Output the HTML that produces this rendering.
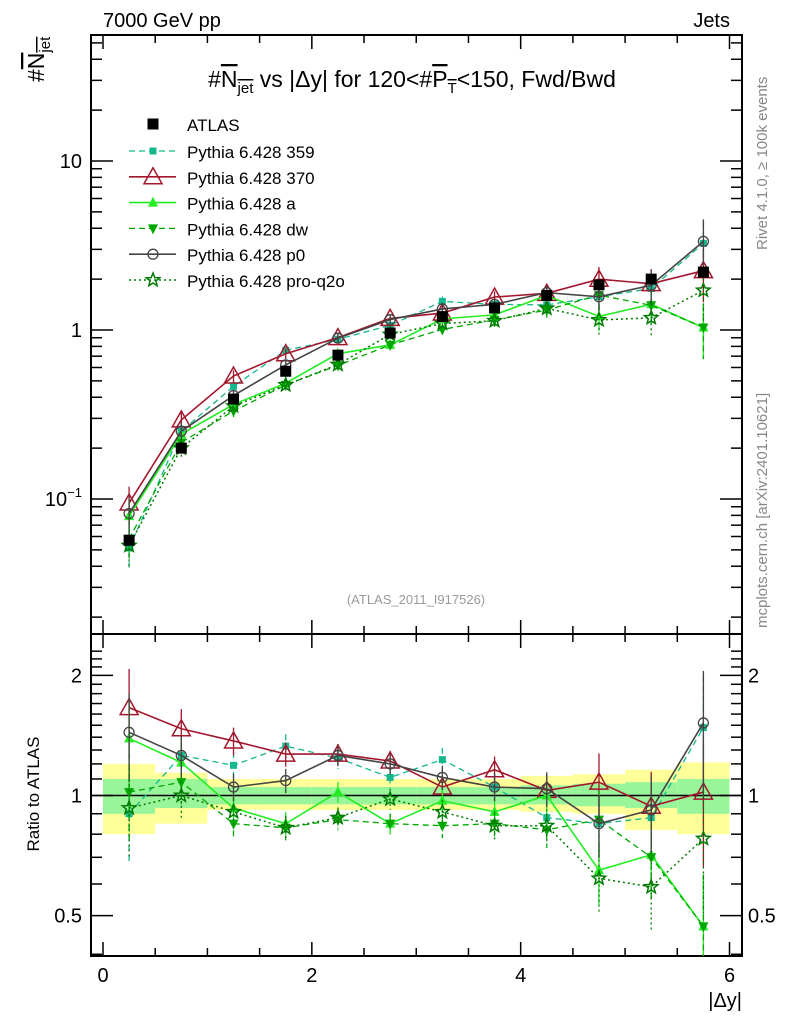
<!DOCTYPE html>
<html><head><meta charset="utf-8"><style>
html,body{margin:0;padding:0;background:#fff;}
svg text{font-family:"Liberation Sans",sans-serif;}
</style></head><body>
<svg id="c" width="786" height="1024" xmlns="http://www.w3.org/2000/svg">
<g id="bands"></g>
<g id="axes"></g>
<g id="series"></g>
<g id="legend"></g>
<text x="103" y="27" font-size="20">7000 GeV pp</text>
<text x="730" y="27" font-size="20" text-anchor="end">Jets</text>
<text x="412" y="87" font-size="23" text-anchor="middle">#<tspan text-decoration="overline">N<tspan font-size="15" dy="6">jet</tspan></tspan><tspan dy="-6"> vs |Δy| for 120&lt;#</tspan><tspan text-decoration="overline">P<tspan font-size="15" dy="6">T</tspan></tspan><tspan dy="-6">&lt;150, Fwd/Bwd</tspan></text>
<text transform="translate(44,82) rotate(-90)" font-size="23">#<tspan text-decoration="overline">N<tspan font-size="15" dy="6">jet</tspan></tspan></text>
<text transform="translate(39,794) rotate(-90)" font-size="17" text-anchor="middle">Ratio to ATLAS</text>
<text x="742" y="1007" font-size="20" text-anchor="end">|Δy|</text>
<text x="416" y="604" font-size="13" fill="#999" text-anchor="middle">(ATLAS_2011_I917526)</text>
<text transform="translate(767,250) rotate(-90)" font-size="15" fill="#888">Rivet 4.1.0, ≥ 100k events</text>
<text transform="translate(767,628) rotate(-90)" font-size="15" fill="#888">mcplots.cern.ch [arXiv:2401.10621]</text>
</svg>
<script>
const xCenters=[0.25,0.75,1.25,1.75,2.25,2.75,3.25,3.75,4.25,4.75,5.25,5.75];
const atlasVals=[0.057,0.20,0.39,0.57,0.71,0.96,1.2,1.35,1.6,1.85,2.0,2.2];
const r359=[0.90,1.26,1.19,1.33,1.24,1.11,1.23,1.05,0.88,0.85,0.88,1.48];
const r370=[1.66,1.47,1.37,1.27,1.27,1.22,1.05,1.16,1.03,1.08,0.94,1.02];
const rA=[1.39,1.21,0.93,0.85,1.02,0.85,0.97,0.91,1.0,0.65,0.71,0.47];
const rDW=[1.02,1.08,0.85,0.83,0.87,0.85,0.84,0.85,0.82,0.87,0.70,0.47];
const rP0=[1.44,1.26,1.05,1.09,1.26,1.20,1.11,1.05,1.04,0.85,0.92,1.52];
const rQ2O=[0.93,1.0,0.91,0.83,0.88,0.98,0.91,0.84,0.84,0.62,0.59,0.78];
const mcErr=[0.25,0.12,0.08,0.07,0.06,0.06,0.07,0.08,0.1,0.18,0.22,0.35];
const statUp=[1.10,1.10,1.05,1.05,1.05,1.05,1.05,1.05,1.06,1.07,1.08,1.10];
const statDn=[0.90,0.93,0.95,0.95,0.95,0.95,0.95,0.95,0.95,0.94,0.93,0.90];
const totUp=[1.20,1.14,1.10,1.10,1.10,1.10,1.10,1.10,1.12,1.13,1.16,1.21];
const totDn=[0.80,0.85,0.92,0.92,0.92,0.92,0.92,0.92,0.91,0.90,0.82,0.80];
const NS="http://www.w3.org/2000/svg";
const L=91,R=742,T=35,MB=634,RB=956;
const X=v=>103+v*(729.5-103)/6;
const Y=v=>330-169*Math.log10(v);
const YR=v=>795.5-399*Math.log10(v);
function mk(tag,attrs,parent){const e=document.createElementNS(NS,tag);for(const k in attrs)e.setAttribute(k,attrs[k]);document.getElementById(parent).appendChild(e);return e;}
for(let i=0;i<12;i++){
 const x0=X(xCenters[i]-0.25),x1=X(xCenters[i]+0.25);
 const b=mk('rect',{x:x0,y:YR(totUp[i]),width:x1-x0,height:YR(totDn[i])-YR(totUp[i]),fill:'#ffff99'},'bands');
 
 
 const g=mk('rect',{x:x0,y:YR(statUp[i]),width:x1-x0,height:YR(statDn[i])-YR(statUp[i]),fill:'#99f599'},'bands');
 
 
}
const f1=mk('rect',{x:L,y:T,width:R-L,height:MB-T,fill:'none',stroke:'#000','stroke-width':2},'axes');


const f2=mk('rect',{x:L,y:MB,width:R-L,height:RB-MB,fill:'none',stroke:'#000','stroke-width':2},'axes');


mk('line',{x1:L,x2:R,y1:YR(1),y2:YR(1),stroke:'#000','stroke-width':1.5},'axes');
for(let v=0;v<=6;v+=0.5){
 const major=v%2===0,len=major?14:8;
 [[MB,1],[T,1],[RB,-1],[MB,-1]].forEach(([y,d])=>mk('line',{x1:X(v),x2:X(v),y1:y,y2:y+d*len,stroke:'#000','stroke-width':1.5},'axes'));
 if(major){const t=mk('text',{x:X(v),y:982,'font-size':20,'text-anchor':'middle'},'axes');t.textContent=v;
 
 }
}
for(let e=-2;e<=1;e++)for(let m=1;m<=9;m++){
 const v=m*Math.pow(10,e),y=Y(v);if(y<T||y>MB)continue;
 const len=m===1?22:11;
 mk('line',{x1:L,x2:L+len,y1:y,y2:y,stroke:'#000','stroke-width':1.5},'axes');
 mk('line',{x1:R,x2:R-len,y1:y,y2:y,stroke:'#000','stroke-width':1.5},'axes');
}
[[10,'10'],[1,'1']].forEach(([v,s])=>{const t=mk('text',{x:82,y:Y(v)+7,'font-size':20,'text-anchor':'end'},'axes');t.textContent=s;
 
 });
{const t=mk('text',{x:82,y:Y(0.1)+7,'font-size':20,'text-anchor':'end'},'axes');t.innerHTML='10<tspan font-size="13" dy="-9">−1</tspan>';
 
 }
for(let v=0.4;v<=2.35;v+=0.1){const y=YR(v);if(y<MB||y>RB)continue;
 const major=Math.abs(v-0.5)<1e-6||Math.abs(v-1)<1e-6||Math.abs(v-2)<1e-6;const len=major?22:11;
 mk('line',{x1:L,x2:L+len,y1:y,y2:y,stroke:'#000','stroke-width':1.5},'axes');
 mk('line',{x1:R,x2:R-len,y1:y,y2:y,stroke:'#000','stroke-width':1.5},'axes');}
[[2,'2'],[1,'1'],[0.5,'0.5']].forEach(([v,s])=>{
 const t=mk('text',{x:82,y:YR(v)+7,'font-size':20,'text-anchor':'end'},'axes');t.textContent=s;
 
 
 const t2=mk('text',{x:748,y:YR(v)+7,'font-size':20},'axes');t2.textContent=s;
 
 });
function marker(type,x,y,col,parent){
 if(type==='sq')return mk('rect',{x:x-5.5,y:y-5.5,width:11,height:11,fill:col},parent);
 if(type==='ssq')return mk('rect',{x:x-3.5,y:y-3.5,width:7,height:7,fill:col},parent);
 if(type==='otri')return mk('polygon',{points:`${x},${y-9} ${x-9},${y+7} ${x+9},${y+7}`,fill:'none',stroke:col,'stroke-width':1.5},parent);
 if(type==='tri')return mk('polygon',{points:`${x},${y-6} ${x-5},${y+4} ${x+5},${y+4}`,fill:col},parent);
 if(type==='dtri')return mk('polygon',{points:`${x},${y+6} ${x-5},${y-4} ${x+5},${y-4}`,fill:col},parent);
 if(type==='circ')return mk('circle',{cx:x,cy:y,r:5,fill:'none',stroke:col,'stroke-width':1.3},parent);
 if(type==='star'){let p=[];for(let k=0;k<10;k++){const a=-Math.PI/2+k*Math.PI/5,rr=k%2?3:7;p.push((x+rr*Math.cos(a)).toFixed(1)+','+(y+rr*Math.sin(a)).toFixed(1));}
  return mk('polygon',{points:p.join(' '),fill:'none',stroke:col,'stroke-width':1.5},parent);}
}
const series=[
 {name:'359',r:r359,col:'#14b88e',dash:'6,4',m:'ssq',w:1.3},
 {name:'370',r:r370,col:'#a3172d',dash:'',m:'otri',w:1.6},
 {name:'a',r:rA,col:'#22ee22',dash:'',m:'tri',w:1.6},
 {name:'dw',r:rDW,col:'#00a800',dash:'6,4',m:'dtri',w:1.3},
 {name:'p0',r:rP0,col:'#444',dash:'',m:'circ',w:1.6},
 {name:'pro-q2o',r:rQ2O,col:'#007a00',dash:'2,3',m:'star',w:1.5}
];
series.forEach(s=>{
 const main=[],rat=[];
 for(let i=0;i<12;i++){
  const v=atlasVals[i]*s.r[i],x=X(xCenters[i]);
  main.push([x,Y(v)]);rat.push([x,YR(s.r[i])]);
  const e=mcErr[i];
  mk('line',{x1:x,x2:x,y1:Y(v*(1+e)),y2:Y(v*Math.max(0.05,1-e)),stroke:s.col,'stroke-width':1.3,'stroke-dasharray':s.dash},'series');
  mk('line',{x1:x,x2:x,y1:YR(s.r[i]*(1+e)),y2:Math.min(RB,YR(s.r[i]*Math.max(0.05,1-e))),stroke:s.col,'stroke-width':1.3,'stroke-dasharray':s.dash},'series');
 }
 const p1=mk('polyline',{points:main.map(p=>p.join(',')).join(' '),fill:'none',stroke:s.col,'stroke-width':s.w,'stroke-dasharray':s.dash},'series');
 
 
 const p2=mk('polyline',{points:rat.map(p=>p.join(',')).join(' '),fill:'none',stroke:s.col,'stroke-width':s.w,'stroke-dasharray':s.dash},'series');
 
 
 main.forEach(p=>{const e=marker(s.m,p[0],p[1],s.col,'series');
  
  });
 rat.forEach(p=>{const e=marker(s.m,p[0],p[1],s.col,'series');
  
  });
});
for(let i=0;i<12;i++){const x=X(xCenters[i]),y=Y(atlasVals[i]);
 const e=marker('sq',x,y,'#000','series');
 
 }
const legNames=['Pythia 6.428 359','Pythia 6.428 370','Pythia 6.428 a','Pythia 6.428 dw','Pythia 6.428 p0','Pythia 6.428 pro-q2o'];
{const e=marker('sq',153,124,'#000','legend');
 
 
 const t=mk('text',{x:187,y:131,'font-size':17},'legend');t.textContent='ATLAS';
 
 }
series.forEach((s,k)=>{const y=151+k*25.8;
 mk('line',{x1:129,x2:176,y1:y,y2:y,stroke:s.col,'stroke-width':s.w,'stroke-dasharray':s.dash},'legend');
 marker(s.m,153,y,s.col,'legend');
 const t=mk('text',{x:187,y:y+7,'font-size':17},'legend');t.textContent=legNames[k];
 
 });
</script>
</body></html>
